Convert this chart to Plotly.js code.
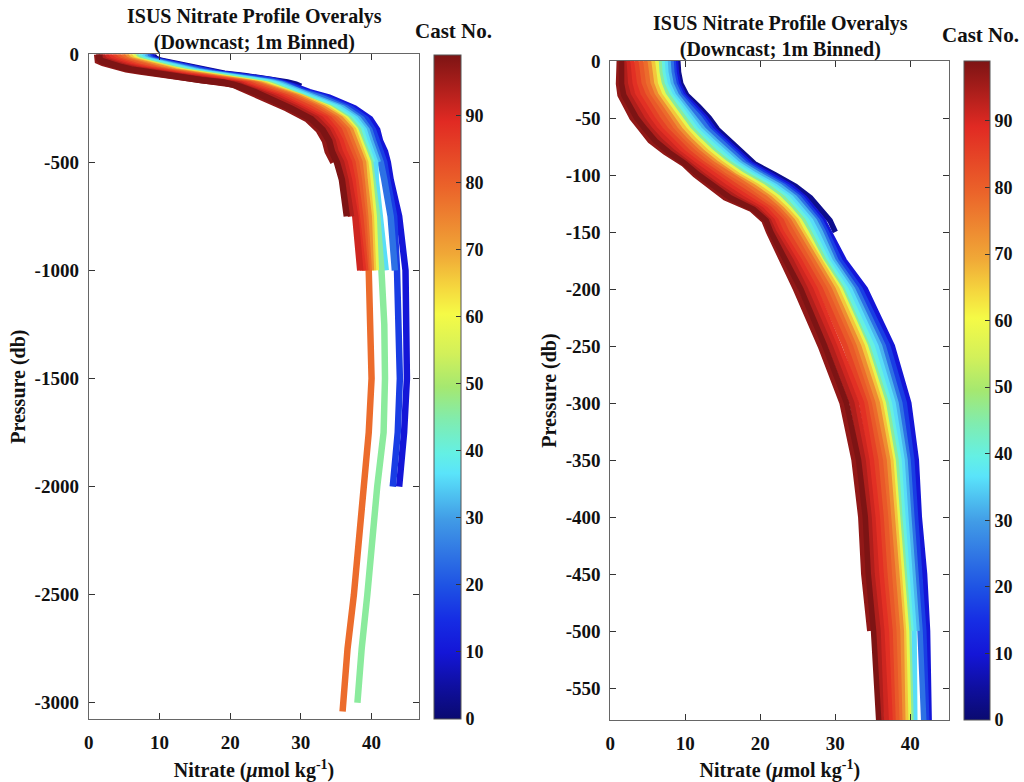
<!DOCTYPE html>
<html><head><meta charset="utf-8">
<script src="https://cdn.plot.ly/plotly-3.0.1.min.js"></script>
<style>html,body{margin:0;padding:0;background:#fff}#chart{width:1024px;height:782px}</style>
</head><body><div id="chart"></div>
<script>
// Pressure levels (db) shared by all casts
const PRESSURE = [0,-10,-20,-30,-40,-50,-60,-70,-80,-90,-100,-110,-120,-130,-140,-150,-175,-200,-250,-300,-350,-400,-450,-500,-580,-750,-1000,-1250,-1500,-1750,-2000,-2250,-2500,-2750,-3000,-3040];

// Nitrate (umol/kg) per representative cast, read at PRESSURE levels (each ends where the cast ends)
const n03 = [9.0,9.1,9.4,10.2,11.8,13.2,14.3,15.9,17.5,19.2,22.0,24.7,26.7,28.1,29.3,30.0];
const n10 = [8.7,8.8,9.1,9.8,11.3,12.7,13.8,15.4,17.0,18.7,21.4,24.1,25.9,27.2,28.4,29.2,31.2,34.0,37.6,39.8,40.8,41.2,41.9,42.3,42.7,43.9,44.8,44.9,45.0,44.6,43.9];
const n17 = [8.4,8.5,8.8,9.5,10.9,12.3,13.4,15.0,16.6,18.3,20.9,23.6,25.5,26.8,28.0,28.8,30.6,33.3,37.0,39.2,40.2,40.7,41.3,41.8,42.2,43.2,43.6,43.9,44.0,43.7,43.0];
const n24 = [8.1,8.2,8.5,9.2,10.5,11.9,13.0,14.6,16.2,17.9,20.4,23.1,25.1,26.4,27.6,28.4,30.1,32.8,36.4,38.6,39.7,40.2,40.8,41.3,41.8,42.7,43.3];
const n32 = [7.7,7.8,8.1,8.8,10.0,11.3,12.4,14.0,15.6,17.4,19.9,22.6,24.6,25.9,27.2,28.0,29.7,32.3,35.9,38.1,39.3,39.8,40.4,40.9];
const n36 = [7.3,7.4,7.7,8.4,9.6,10.8,11.9,13.5,15.1,16.9,19.3,22.0,24.1,25.4,26.7,27.5,29.3,31.9,35.4,37.7,38.9,39.4,40.0,40.5,40.6,41.2,42.0];
const n40 = [6.9,7.0,7.3,8.0,9.2,10.3,11.4,13.0,14.6,16.4,18.8,21.5,23.6,24.9,26.2,27.0,28.9,31.4,34.9,37.2,38.5,39.0,39.6,40.1];
const n46 = [6.5,6.6,6.9,7.6,8.7,9.8,10.9,12.4,14.0,15.9,18.2,20.9,23.0,24.4,25.7,26.5,28.5,30.9,34.3,36.8,38.1,38.6,39.2,39.8,40.1,40.8,41.4,41.8,41.9,41.7,40.8,40.2,39.4,38.6,38.0];
const n58 = [6.1,6.2,6.5,7.1,8.2,9.3,10.4,11.9,13.5,15.4,17.6,20.3,22.4,23.9,25.2,26.1,28.1,30.6,34.0,36.4,37.7,38.3,38.9,39.5,39.8,40.3,40.6];
const n66 = [5.6,5.8,6.0,6.6,7.7,8.8,9.9,11.3,12.9,14.8,17.0,19.6,21.8,23.4,24.8,25.6,27.8,30.2,33.6,36.0,37.4,38.0,38.6,39.1,39.4,39.9,40.2];
const n73 = [5.1,5.3,5.5,6.1,7.2,8.2,9.3,10.7,12.3,14.2,16.4,19.0,21.2,22.9,24.3,25.2,27.4,29.7,33.1,35.6,37.0,37.6,38.2,38.8,39.0,39.6,39.9];
const n78 = [4.6,4.8,5.0,5.6,6.6,7.6,8.7,10.1,11.7,13.6,15.8,18.3,20.6,22.4,23.8,24.7,26.9,29.2,32.5,35.0,36.5,37.1,37.7,38.3,38.6,39.1,39.6,39.8,40.0,39.6,38.9,38.3,37.5,36.6,36.1,35.9];
const n81 = [4.0,4.2,4.4,5.0,6.0,7.0,8.1,9.5,11.1,13.0,15.1,17.6,19.9,21.9,23.3,24.2,26.4,28.6,32.0,34.5,36.0,36.7,37.2,37.8,38.2,38.8,39.3];
const n85 = [3.4,3.6,3.8,4.4,5.3,6.3,7.4,8.8,10.4,12.3,14.4,16.8,19.1,21.3,22.8,23.5,25.8,28.0,31.3,34.0,35.4,36.1,36.6,37.3,37.7,38.4,39.1];
const n88 = [2.8,3.0,3.2,3.7,4.6,5.6,6.7,8.1,9.7,11.7,13.7,16.0,18.3,20.7,22.1,22.8,25.2,27.3,30.5,33.5,34.8,35.6,36.1,36.8,37.3,38.0,38.8];
const n91 = [2.3,2.4,2.6,3.0,3.9,4.9,6.0,7.4,9.0,11.0,13.0,15.2,17.5,20.1,21.6,22.3,24.6,26.7,29.9,32.8,34.2,35.0,35.5,36.2,36.8,37.7,38.4];
const n94 = [1.8,1.9,2.0,2.4,3.2,4.2,5.3,6.7,8.4,10.3,12.3,14.4,16.7,19.5,21.1,21.8,24.1,26.0,29.3,32.2,33.7,34.5,34.9,35.7,36.3,37.1];
const n97 = [1.2,1.2,1.1,1.3,2.0,2.9,4.1,5.3,7.3,9.7,11.3,13.3,15.3,18.8,20.5,21.1,22.9,24.7,28.0,30.9,32.5,33.4,33.8,34.6];
const n99 = [1.5,1.5,1.5,1.8,2.6,3.5,4.7,6.0,7.8,10.0,11.8,13.8,16.0,19.1,20.8,21.4,23.5,25.4,28.6,31.5,33.1,34.0,34.4,35.1,35.8,36.5];

const CAST_NO = [3,10,17,24,32,36,40,46,58,66,73,78,81,85,88,91,94,97,99];
const CAST_NITRATE = [n03,n10,n17,n24,n32,n36,n40,n46,n58,n66,n73,n78,n81,n85,n88,n91,n94,n97,n99];

// Tick labels
const X_TICKS = [0,10,20,30,40];
const Y_TICKS_LEFT = [0,-500,-1000,-1500,-2000,-2500,-3000];
const Y_TEXT_LEFT = ['0','-500','-1000','-1500','-2000','-2500','-3000'];
const Y_TICKS_RIGHT = [0,-50,-100,-150,-200,-250,-300,-350,-400,-450,-500,-550];
const Y_TEXT_RIGHT = ['0','-50','-100','-150','-200','-250','-300','-350','-400','-450','-500','-550'];
const CB_TICKS = [0,10,20,30,40,50,60,70,80,90];
const CB_MIN = 0, CB_MAX = 99;

const CSCALE = [
  [0.00,'rgb(10,10,112)'],[0.05,'rgb(15,15,160)'],[0.10,'rgb(20,22,215)'],[0.15,'rgb(22,45,228)'],
  [0.20,'rgb(30,82,228)'],[0.25,'rgb(48,118,228)'],[0.30,'rgb(65,155,230)'],[0.37,'rgb(90,228,250)'],
  [0.40,'rgb(100,240,228)'],[0.45,'rgb(128,236,175)'],[0.50,'rgb(165,232,112)'],[0.55,'rgb(210,240,90)'],
  [0.61,'rgb(245,250,70)'],[0.65,'rgb(245,215,62)'],[0.70,'rgb(240,168,55)'],[0.80,'rgb(235,100,42)'],
  [0.90,'rgb(225,42,35)'],[1.00,'rgb(125,20,20)']
];

function parseRgb(s){ return s.match(/\d+/g).map(Number); }
function castColor(v){
  const t = Math.max(0, Math.min(1, (v - CB_MIN) / (CB_MAX - CB_MIN)));
  for (let i = 0; i < CSCALE.length - 1; i++) {
    const a = CSCALE[i], b = CSCALE[i+1];
    if (t <= b[0]) {
      const f = (t - a[0]) / (b[0] - a[0]);
      const ca = parseRgb(a[1]), cb = parseRgb(b[1]);
      const c = ca.map((x, k) => Math.round(x + (cb[k] - x) * f));
      return 'rgb(' + c.join(',') + ')';
    }
  }
  return CSCALE[CSCALE.length-1][1];
}

const SERIF = '"Liberation Serif", "Times New Roman", Times, serif';
const W = 1024, H = 782;

const traces = [];
CAST_NITRATE.forEach((nit, i) => {
  const col = castColor(CAST_NO[i]);
  const pres = PRESSURE.slice(0, nit.length);
  traces.push({type:'scatter', mode:'lines', x:nit, y:pres, xaxis:'x', yaxis:'y',
    line:{color:col, width:6.5}, showlegend:false, hoverinfo:'skip', name:'Cast '+CAST_NO[i]});
  traces.push({type:'scatter', mode:'lines', x:nit, y:pres, xaxis:'x2', yaxis:'y2',
    line:{color:col, width:5.5}, showlegend:false, hoverinfo:'skip', name:'Cast '+CAST_NO[i]});
});

function cbar(x0, top, len, thick){
  return {x:x0/W, xanchor:'left', xpad:0, y:1-top/H, yanchor:'top', ypad:0,
    len:len, lenmode:'pixels', thickness:thick, thicknessmode:'pixels',
    outlinewidth:1, outlinecolor:'#555', borderwidth:0,
    tickmode:'array', tickvals:CB_TICKS, ticks:'inside', ticklen:5, tickcolor:'#333',
    tickfont:{family:SERIF, size:18, color:'#111', weight:'bold'}};
}
traces.push({type:'scatter', mode:'markers', x:[null], y:[null], xaxis:'x', yaxis:'y', showlegend:false, hoverinfo:'skip',
  marker:{color:[0], cmin:CB_MIN, cmax:CB_MAX, colorscale:CSCALE, showscale:true, colorbar:cbar(434, 55, 664, 27)}});
traces.push({type:'scatter', mode:'markers', x:[null], y:[null], xaxis:'x2', yaxis:'y2', showlegend:false, hoverinfo:'skip',
  marker:{color:[0], cmin:CB_MIN, cmax:CB_MAX, colorscale:CSCALE, showscale:true, colorbar:cbar(964, 61, 659, 26)}});

const axisCommon = {ticks:'inside', ticklen:6, tickwidth:1, tickcolor:'#333', showline:true, linecolor:'#666', linewidth:1,
  mirror:'ticks', showgrid:false, zeroline:false, tickfont:{family:SERIF, size:19, color:'#111', weight:'bold'}};
const xTitle = {text:'Nitrate (<i>μ</i>mol kg<sup>-1</sup>)', font:{family:SERIF, size:20, color:'#111', weight:'bold'}, standoff:13};
const yTitle = {text:'Pressure (db)', font:{family:SERIF, size:20, color:'#111', weight:'bold'}, standoff:3};

const layout = {
  width:W, height:H, margin:{l:0, r:0, t:0, b:0}, paper_bgcolor:'#fff', plot_bgcolor:'#fff', showlegend:false,
  font:{family:SERIF, size:19, color:'#111', weight:'bold'},
  xaxis:Object.assign({}, axisCommon, {domain:[88.7/W, 419.3/W], range:[0, 46.75], tickvals:X_TICKS, anchor:'y', title:xTitle, ticklabelstandoff:6}),
  yaxis:Object.assign({}, axisCommon, {domain:[1-719/H, 1-54.3/H], range:[-3075, 0], tickvals:Y_TICKS_LEFT, ticktext:Y_TEXT_LEFT, anchor:'x', title:yTitle, ticklabelstandoff:5}),
  xaxis2:Object.assign({}, axisCommon, {domain:[610.3/W, 949.3/W], range:[0, 45.2], tickvals:X_TICKS, anchor:'y2', title:xTitle, ticklabelstandoff:6}),
  yaxis2:Object.assign({}, axisCommon, {domain:[1-720/H, 1-61/H], range:[-578, 0], tickvals:Y_TICKS_RIGHT, ticktext:Y_TEXT_RIGHT, anchor:'x2', title:yTitle, ticklabelstandoff:5}),
  annotations:[
    {xref:'paper', yref:'paper', x:254/W, y:1-30/H, xanchor:'center', yanchor:'middle', showarrow:false,
     text:'ISUS Nitrate Profile Overalys<br>(Downcast; 1m Binned)', font:{family:SERIF, size:20, color:'#111', weight:'bold'}},
    {xref:'paper', yref:'paper', x:780/W, y:1-36/H, xanchor:'center', yanchor:'middle', showarrow:false,
     text:'ISUS Nitrate Profile Overalys<br>(Downcast; 1m Binned)', font:{family:SERIF, size:20, color:'#111', weight:'bold'}},
    {xref:'paper', yref:'paper', x:453/W, y:1-31/H, xanchor:'center', yanchor:'middle', showarrow:false,
     text:'Cast No.', font:{family:SERIF, size:21, color:'#111', weight:'bold'}},
    {xref:'paper', yref:'paper', x:980/W, y:1-35/H, xanchor:'center', yanchor:'middle', showarrow:false,
     text:'Cast No.', font:{family:SERIF, size:21, color:'#111', weight:'bold'}}
  ]
};

Plotly.newPlot('chart', traces, layout, {displayModeBar:false, staticPlot:true});
</script>
</body></html>
